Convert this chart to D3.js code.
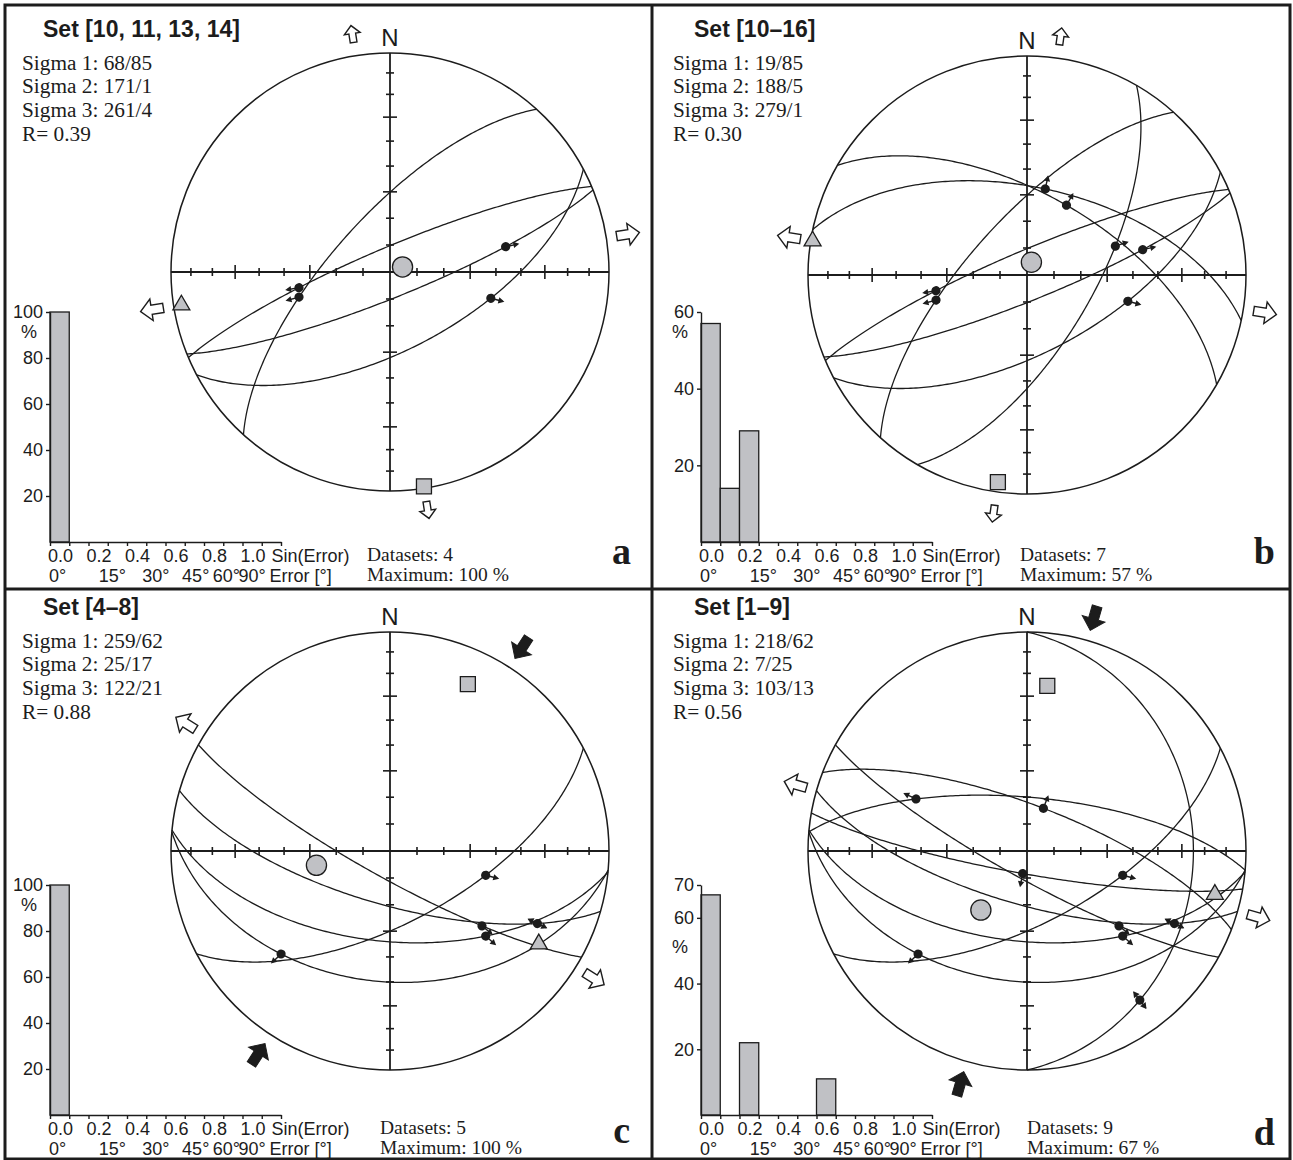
<!DOCTYPE html>
<html>
<head>
<meta charset="utf-8">
<script src="https://cdn.jsdelivr.net/npm/d3@7"></script>
<style>
  body { margin: 0; background: #fff; }
  .sans { font-family: "Liberation Sans", Arial, sans-serif; }
  .serif { font-family: "Liberation Serif", "Times New Roman", serif; }
</style>
</head>
<body>
<script>
// ---- fault data, one entry per set number (dip direction / dip, lineation trend / plunge)
const setIds     = [1, 2, 3, 4, 5, 6, 7, 8, 9, 10, 11, 12, 13, 14, 15, 16];
const dipDirs    = [21, 5, 190, 209, 196, 185.5, 185, 152, 90, 312, 337, 30, 158, 152, 12, 120];
const dips       = [73, 70, 81.5, 80, 70, 56, 40, 63, 25, 69, 81, 60, 80.5, 61, 57, 65];
const linTrends  = [21, 296, 191, 129, 116, 133, 226, 104, 143, 253.5, 262, 29.5, 78, 105.5, 12, 72];
const linPlunges = [75, 43, 82, 45, 26, 40, 31, 53, 16, 55, 55, 60, 45, 50, 56, 55];
const senses     = ['n', 'n', 'n', 'n', 's', 'n', 'n', 'n', 's', 'n', 'n', 'n', 'n', 'n', 'n', 'n'];

// ---- panel data
const titles      = ['Set [10, 11, 13, 14]', 'Set [10–16]', 'Set [4–8]', 'Set [1–9]'];
const panelSets   = [[10, 11, 13, 14], [10, 11, 12, 13, 14, 15, 16], [4, 5, 6, 7, 8], [1, 2, 3, 4, 5, 6, 7, 8, 9]];
const sigma1      = [[68, 85], [19, 85], [259, 62], [218, 62]];
const sigma2      = [[171, 1], [188, 5], [25, 17], [7, 25]];
const sigma3      = [[261, 4], [279, 1], [122, 21], [103, 13]];
const rValues     = ['0.39', '0.30', '0.88', '0.56'];
const openTrends  = [[261, 171], [279, 188], [122], [106]];
const solidTrends = [[], [], [33], [16]];
const histBins    = [[100], [57, 14, 29], [100], [67, 0, 22, 0, 0, 0, 11]];
const histMax     = [100, 60, 100, 70];
const histTicks   = [[20, 40, 60, 80, 100], [20, 40, 60], [20, 40, 60, 80, 100], [20, 40, 60, 70]];
const maxima      = [100, 57, 100, 67];
const letters     = ['a', 'b', 'c', 'd'];
const sinTicks    = [0, 0.1, 0.2, 0.3, 0.4, 0.5, 0.6, 0.7, 0.8, 0.9, 1.0, 1.1, 1.2];
const sinLabels   = [0, 0.2, 0.4, 0.6, 0.8, 1.0];
const errLabels   = [0, 15, 30, 45, 60, 90];
const axisPlunges = [80, 70, 60, 50, 40, 30, 20, 10];

// ---- layout
const layout = [
  { ox: 0,   oy: 0,   cx: 390,  cy: 272, hx: 50,  base: 542,  infoX: 367,  letterX: 631,  letterY: 564,  pct: 20 },
  { ox: 651, oy: 0,   cx: 1027, cy: 275, hx: 701, base: 542,  infoX: 1020, letterX: 1275, letterY: 564,  pct: 20 },
  { ox: 0,   oy: 578, cx: 390,  cy: 851, hx: 50,  base: 1115, infoX: 380,  letterX: 630,  letterY: 1143, pct: 20 },
  { ox: 651, oy: 578, cx: 1027, cy: 851, hx: 701, base: 1115, infoX: 1027, letterX: 1275, letterY: 1145, pct: 62 }
];
const R = 219;
const ink = '#1c1c1c';
const grey = '#c0c1c5';

const rad = Math.PI / 180;
const vec = (tr, pl) => [Math.cos(pl * rad) * Math.sin(tr * rad), Math.cos(pl * rad) * Math.cos(tr * rad), Math.sin(pl * rad)];
const toTP = v => {
  let [e, n, d] = v;
  if (d < 0) { e = -e; n = -n; d = -d; }
  const len = Math.hypot(e, n, d);
  return [Math.atan2(e, n) / rad, Math.asin(Math.min(1, d / len)) / rad];
};
// Schmidt net, lower hemisphere
const project = (tr, pl) => {
  const r = Math.SQRT2 * Math.sin((90 - pl) / 2 * rad);
  return [r * Math.sin(tr * rad), r * Math.cos(tr * rad)];
};
const greatCircle = (dd, dip) => {
  const s = vec(dd - 90, 0), dv = vec(dd, dip);
  return d3.range(0, 180.01, 1).map(a => {
    const c = Math.cos(a * rad), si = Math.sin(a * rad);
    return project(...toTP([c * s[0] + si * dv[0], c * s[1] + si * dv[1], c * s[2] + si * dv[2]]));
  });
};
// put the lineation exactly on its plane
const onPlane = (dd, dip, tr, pl) => {
  const p = vec(dd + 180, 90 - dip), l = vec(tr, pl);
  const k = l[0] * p[0] + l[1] * p[1] + l[2] * p[2];
  return toTP([l[0] - k * p[0], l[1] - k * p[1], l[2] - k * p[2]]);
};

const svg = d3.select('body').append('svg').attr('width', 1293).attr('height', 1160);
svg.append('rect').attr('width', 1293).attr('height', 1160).attr('fill', '#fff');

// frame
svg.append('rect').attr('x', 5).attr('y', 5).attr('width', 1285).attr('height', 1154)
  .attr('fill', 'none').attr('stroke', ink).attr('stroke-width', 3);
svg.append('line').attr('x1', 652).attr('x2', 652).attr('y1', 5).attr('y2', 1159).attr('stroke', ink).attr('stroke-width', 3);
svg.append('line').attr('x1', 5).attr('x2', 1290).attr('y1', 589).attr('y2', 589).attr('stroke', ink).attr('stroke-width', 3);

const blockArrow = L => d3.line()([
  [-L / 2, -0.2 * L], [0.02 * L, -0.2 * L], [0.02 * L, -0.47 * L], [L / 2, 0],
  [0.02 * L, 0.47 * L], [0.02 * L, 0.2 * L], [-L / 2, 0.2 * L]
]) + 'Z';

layout.forEach((lay, i) => {
  const g = svg.append('g');
  const xs = d3.scaleLinear().domain([-1, 1]).range([lay.cx - R, lay.cx + R]);
  const ys = d3.scaleLinear().domain([-1, 1]).range([lay.cy + R, lay.cy - R]);
  const line = d3.line().x(d => xs(d[0])).y(d => ys(d[1]));

  // title and stress text
  g.append('text').attr('class', 'sans').attr('x', lay.ox + 43).attr('y', lay.oy + 37)
    .attr('font-size', 23).attr('font-weight', 'bold').attr('fill', ink).text(titles[i]);
  const lines = [
    `Sigma 1: ${sigma1[i][0]}/${sigma1[i][1]}`,
    `Sigma 2: ${sigma2[i][0]}/${sigma2[i][1]}`,
    `Sigma 3: ${sigma3[i][0]}/${sigma3[i][1]}`,
    `R= ${rValues[i]}`
  ];
  g.selectAll('.sig').data(lines).enter().append('text').attr('class', 'serif')
    .attr('x', lay.ox + 22).attr('y', (d, k) => lay.oy + 69.5 + k * 23.7)
    .attr('font-size', 21.3).attr('fill', ink).text(d => d);

  // net: great circles
  const ids = panelSets[i].map(s => setIds.indexOf(s));
  g.selectAll('.gc').data(ids).enter().append('path')
    .attr('d', k => line(greatCircle(dipDirs[k], dips[k])))
    .attr('fill', 'none').attr('stroke', ink).attr('stroke-width', 1.3);

  // axes with ticks
  g.append('line').attr('x1', xs(-1)).attr('x2', xs(1)).attr('y1', ys(0)).attr('y2', ys(0)).attr('stroke', ink).attr('stroke-width', 1.8);
  g.append('line').attr('x1', xs(0)).attr('x2', xs(0)).attr('y1', ys(-1)).attr('y2', ys(1)).attr('stroke', ink).attr('stroke-width', 1.8);
  [0, 90, 180, 270].forEach(tr => {
    axisPlunges.forEach(pl => {
      const [u, v] = project(tr, pl);
      const h = (pl === 60 || pl === 30) ? 7 : 4;
      const px = xs(u), py = ys(v);
      if (tr % 180 === 0) {
        g.append('line').attr('x1', px - h).attr('x2', px + h).attr('y1', py).attr('y2', py).attr('stroke', ink).attr('stroke-width', 1.6);
      } else {
        g.append('line').attr('x1', px).attr('x2', px).attr('y1', py - h).attr('y2', py + h).attr('stroke', ink).attr('stroke-width', 1.6);
      }
    });
  });
  g.append('circle').attr('cx', lay.cx).attr('cy', lay.cy).attr('r', R)
    .attr('fill', 'none').attr('stroke', ink).attr('stroke-width', 1.5);
  g.append('text').attr('class', 'sans').attr('x', lay.cx).attr('y', lay.cy - R - 7)
    .attr('text-anchor', 'middle').attr('font-size', 24).attr('fill', ink).text('N');

  // horizontal stress arrows: open = extension, solid = compression
  openTrends[i].forEach((tr, k) => {
    const L = k === 0 ? 23 : 17;
    [tr, tr + 180].forEach(t => {
      const d = (R + 22) / R;
      g.append('path').attr('d', blockArrow(L))
        .attr('transform', `translate(${xs(Math.sin(t * rad) * d)},${ys(Math.cos(t * rad) * d)}) rotate(${t - 90})`)
        .attr('fill', '#fff').attr('stroke', ink).attr('stroke-width', 1.4);
    });
  });
  solidTrends[i].forEach(tr => {
    [tr, tr + 180].forEach(t => {
      const d = (R + 23) / R;
      g.append('path').attr('d', blockArrow(25))
        .attr('transform', `translate(${xs(Math.sin(t * rad) * d)},${ys(Math.cos(t * rad) * d)}) rotate(${t + 90})`)
        .attr('fill', ink).attr('stroke', ink).attr('stroke-width', 1);
    });
  });

  // lineations with slip sense
  ids.forEach(k => {
    const [tr, pl] = onPlane(dipDirs[k], dips[k], linTrends[k], linPlunges[k]);
    const [u, v] = project(tr, pl);
    const a = g.append('g').attr('transform', `translate(${xs(u)},${ys(v)}) rotate(${tr - 90})`);
    if (senses[k] === 's') {
      a.append('line').attr('x1', -10).attr('x2', 10).attr('stroke', ink).attr('stroke-width', 1.4);
      a.append('path').attr('d', 'M11,0L5,-3.5L5,3.5Z').attr('fill', ink);
      a.append('path').attr('d', 'M-11,0L-5,-3.5L-5,3.5Z').attr('fill', ink);
    } else {
      a.append('line').attr('x1', 0).attr('x2', 12).attr('stroke', ink).attr('stroke-width', 1.4);
      a.append('path').attr('d', 'M14,0L8,-3.2L8,3.2Z').attr('fill', ink);
    }
    a.append('circle').attr('r', 4.6).attr('fill', ink);
  });

  // principal stress axes
  const sym = [
    [sigma1[i], d3.symbolCircle, 320],
    [sigma2[i], d3.symbolSquare, 225],
    [sigma3[i], d3.symbolTriangle, 125]
  ];
  sym.forEach(([s, type, size]) => {
    const [u, v] = project(s[0], s[1]);
    g.append('path').attr('d', d3.symbol().type(type).size(size)())
      .attr('transform', `translate(${xs(u)},${ys(v)})`)
      .attr('fill', grey).attr('stroke', ink).attr('stroke-width', 1.3);
  });

  // histogram of misfit
  const hx = d3.scaleLinear().domain([0, 1.2]).range([lay.hx, lay.hx + 231]);
  const hy = d3.scaleLinear().domain([0, histMax[i]]).range([lay.base, lay.base - 230]);
  histBins[i].forEach((v, k) => {
    if (v <= 0) return;
    g.append('rect').attr('x', hx(k * 0.1)).attr('width', hx((k + 1) * 0.1) - hx(k * 0.1))
      .attr('y', hy(v)).attr('height', lay.base - hy(v))
      .attr('fill', grey).attr('stroke', ink).attr('stroke-width', 1.3);
  });
  const xAxisG = g.append('g').attr('transform', `translate(0,${lay.base})`)
    .call(d3.axisBottom(hx).tickValues(sinTicks).tickSize(4).tickSizeOuter(0).tickFormat(''));
  const yAxisG = g.append('g').attr('transform', `translate(${lay.hx},0)`)
    .call(d3.axisLeft(hy).tickValues(histTicks[i]).tickSize(4).tickSizeOuter(0));
  [xAxisG, yAxisG].forEach(ax => {
    ax.selectAll('path,line').attr('stroke', ink).attr('stroke-width', 1.4);
    ax.selectAll('text').attr('class', 'sans').attr('font-size', 18).attr('fill', ink);
  });
  g.append('text').attr('class', 'sans').attr('x', lay.hx - 21).attr('y', hy(histMax[i]) + lay.pct + 6)
    .attr('text-anchor', 'middle').attr('font-size', 18).attr('fill', ink).text('%');
  sinLabels.forEach(s => {
    g.append('text').attr('class', 'sans').attr('x', hx(s) - 2).attr('y', lay.base + 20)
      .attr('font-size', 18).attr('fill', ink).text(s.toFixed(1));
  });
  g.append('text').attr('class', 'sans').attr('x', hx(1.0) + 29).attr('y', lay.base + 20)
    .attr('font-size', 18).attr('fill', ink).text('Sin(Error)');
  errLabels.forEach(e => {
    g.append('text').attr('class', 'sans').attr('x', hx(Math.sin(e * rad)) - (e >= 30 ? 4 : 1)).attr('y', lay.base + 40)
      .attr('font-size', 18).attr('fill', ink).text(`${e}°`);
  });
  g.append('text').attr('class', 'sans').attr('x', hx(1.0) + 27).attr('y', lay.base + 40)
    .attr('font-size', 18).attr('fill', ink).text('Error [°]');

  // info and panel letter
  g.append('text').attr('class', 'serif').attr('x', lay.infoX).attr('y', lay.base + 19)
    .attr('font-size', 19.5).attr('fill', ink).text(`Datasets: ${panelSets[i].length}`);
  g.append('text').attr('class', 'serif').attr('x', lay.infoX).attr('y', lay.base + 39)
    .attr('font-size', 19.5).attr('fill', ink).text(`Maximum: ${maxima[i]} %`);
  g.append('text').attr('class', 'serif').attr('x', lay.letterX).attr('y', lay.letterY)
    .attr('text-anchor', 'end').attr('font-size', 38).attr('font-weight', 'bold').attr('fill', ink).text(letters[i]);
});
</script>
</body>
</html>
